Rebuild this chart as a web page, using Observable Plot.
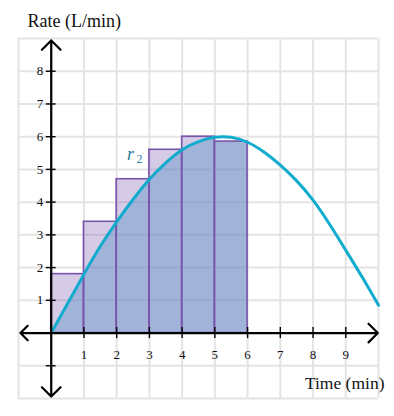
<!DOCTYPE html>
<html>
<head>
<meta charset="utf-8">
<script src="https://cdn.jsdelivr.net/npm/d3@7"></script>
<script src="https://cdn.jsdelivr.net/npm/@observablehq/plot@0.6"></script>
<style>
  body { margin: 0; background: #fff; }
  #chart svg { display: block; }
</style>
</head>
<body>
<div id="chart"></div>
<script>
// ---- data ----
const xDomain = [-1, 10];
const yDomain = [-2, 9];
const xTickValues = [1, 2, 3, 4, 5, 6, 7, 8, 9];
const yTickValues = [1, 2, 3, 4, 5, 6, 7, 8];
const yTickMarks = [-1, 1, 2, 3, 4, 5, 6, 7, 8];
const gridX = [-1, 0, 1, 2, 3, 4, 5, 6, 7, 8, 9, 10];
const gridY = [-2, -1, 0, 1, 2, 3, 4, 5, 6, 7, 8, 9];

const barStarts = [0, 1, 2, 3, 4, 5];
const barEnds = [1, 2, 3, 4, 5, 6];
const barHeights = [1.8, 3.4, 4.7, 5.6, 6.0, 5.85];

const tValues = [0, 0.5, 1, 1.5, 2, 2.5, 3, 3.5, 4, 4.5, 5, 5.5, 6, 6.5, 7, 7.5, 8, 8.5, 9, 9.5, 10];
const rValues = [0, 0.9, 1.8, 2.65, 3.4, 4.08, 4.7, 5.2, 5.6, 5.85, 5.98, 5.98, 5.83, 5.53, 5.13, 4.65, 4.06, 3.33, 2.53, 1.71, 0.85];

const xLabel = "Time (min)";
const yLabel = "Rate (L/min)";
const curveName = "r";
const curveSub = "2";
const curveLabelPos = [2.42, 5.45];

// ---- tables ----
const bars = barStarts.map((s, i) => ({x1: s, x2: barEnds[i], y: barHeights[i]}));
const curve = tValues.map((t, i) => ({t, r: rValues[i]}));
const areaPts = curve.filter(d => d.t <= barEnds[barEnds.length - 1]);

const serif = "'Liberation Serif', 'DejaVu Serif', serif";

const chart = Plot.plot({
  width: 394,
  height: 416,
  marginLeft: 18,
  marginRight: 16,
  marginTop: 38,
  marginBottom: 18,
  x: {domain: xDomain, axis: null},
  y: {domain: yDomain, axis: null},
  style: {fontFamily: serif, background: "#fff", overflow: "visible"},
  marks: [
    Plot.ruleX(gridX, {stroke: "#e4e4e4", strokeWidth: 2}),
    Plot.ruleY(gridY, {stroke: "#e4e4e4", strokeWidth: 2}),
    Plot.rectY(bars, {x1: "x1", x2: "x2", y: "y", fill: "#7854ab", fillOpacity: 0.3, ariaLabel: () => "bars"}),
    Plot.areaY(areaPts, {x: "t", y: "r", curve: "natural", fill: "#6496cd", fillOpacity: 0.45}),
    Plot.rectY(bars, {x1: "x1", x2: "x2", y: "y", fill: "none", stroke: "#7854ab", strokeWidth: 1.6}),
    Plot.line(curve, {x: "t", y: "r", curve: "natural", stroke: "#11accd", strokeWidth: 3}),
    // axes with arrows
    Plot.arrow([{a: 0, b: xDomain[1] - 0.02}, {a: 0, b: xDomain[0] + 0.06}], {x1: "a", x2: "b", y1: 0, y2: 0, stroke: "#000", strokeWidth: 2.2, headAngle: 90, headLength: 9}),
    Plot.arrow([{a: 0, b: yDomain[1] - 0.06}, {a: 0, b: yDomain[0] + 0.06}], {y1: "a", y2: "b", x1: 0, x2: 0, stroke: "#000", strokeWidth: 2.2, headAngle: 90, headLength: 9}),
    // tick marks
    Plot.ruleY(yTickMarks, {x1: -0.15, x2: 0.15, stroke: "#000", strokeWidth: 1.4}),
    Plot.ruleX(xTickValues, {y1: -0.17, y2: 0.17, stroke: "#000", strokeWidth: 1.4}),
    // tick labels
    Plot.text(yTickValues, {x: 0, y: d => d, text: d => String(d), dx: -8, textAnchor: "end", fontSize: 13, fontFamily: serif, fill: "#111"}),
    Plot.text(xTickValues, {x: d => d, y: 0, text: d => String(d), dy: 22, fontSize: 13, fontFamily: serif, fill: "#111"}),
    // axis labels
    Plot.text([yLabel], {x: xDomain[0], y: yDomain[1], text: d => d, dx: 9, dy: -17, textAnchor: "start", fontSize: 18, fontFamily: serif, fill: "#111"}),
    Plot.text([xLabel], {x: xDomain[1], y: yDomain[0], text: d => d, dx: 6, dy: -15, textAnchor: "end", fontSize: 17.5, fontFamily: serif, fill: "#111"}),
    // curve label
    Plot.text([curveName], {x: curveLabelPos[0], y: curveLabelPos[1], text: d => d, fontSize: 18, fontStyle: "italic", fontFamily: serif, fill: "#2b7d9c"}),
    Plot.text([curveSub], {x: curveLabelPos[0], y: curveLabelPos[1], text: d => d, dx: 9, dy: 4, fontSize: 12, fontFamily: serif, fill: "#2b7d9c"})
  ]
});

// clip the blue under-curve fill to the union of the bars
(function () {
  const svg = d3.select(chart);
  const id = "barclip";
  const defs = svg.insert("defs", ":first-child");
  const cp = defs.append("clipPath").attr("id", id);
  svg.selectAll("rect[aria-label='bars']").each(function () {
    const r = d3.select(this);
    cp.append("rect")
      .attr("x", r.attr("x")).attr("y", r.attr("y"))
      .attr("width", r.attr("width")).attr("height", r.attr("height"));
  });
  svg.selectAll("g[aria-label='area'] path").attr("clip-path", `url(#${id})`);
})();

document.getElementById("chart").appendChild(chart);
</script>
</body>
</html>
